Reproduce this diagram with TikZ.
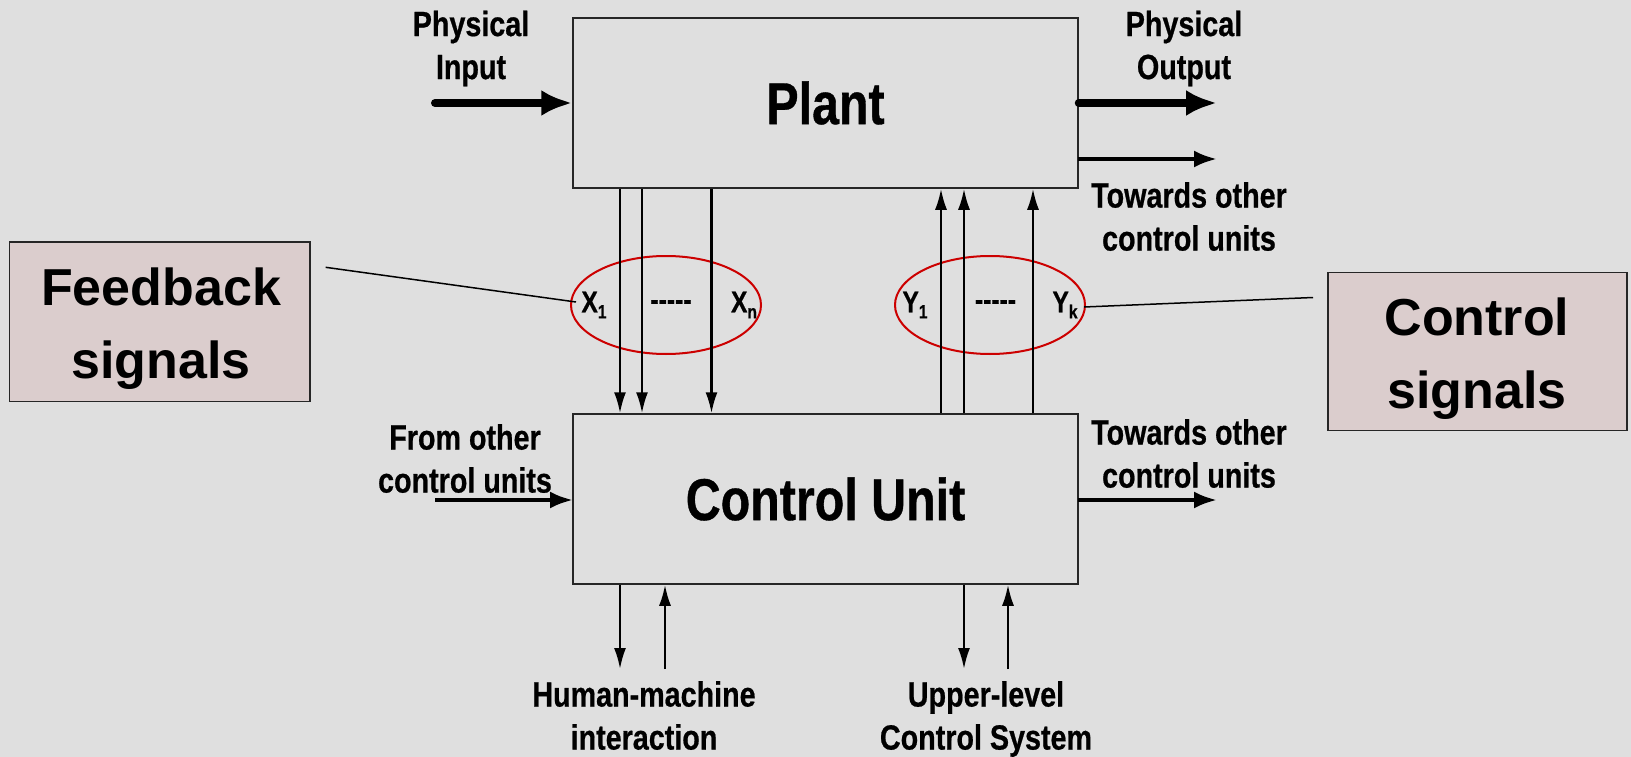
\documentclass[tikz,border=0pt]{standalone}
\usepackage{fontspec}
\setmainfont{Liberation Sans}
\newfontfamily\narrowfont{Liberation Sans}[FakeStretch=0.82, BoldFeatures={FakeBold=0.6}]
\usetikzlibrary{arrows.meta,shapes.geometric}
\definecolor{bg}{HTML}{DFDFDF}
\definecolor{sigfill}{HTML}{DBCDCD}
\definecolor{ellred}{HTML}{CC0000}
\newcommand{\sbs}[1]{\raisebox{-6pt}{\fontsize{19}{19}\selectfont #1}}
\begin{document}
\begin{tikzpicture}[x=1pt,y=-1pt,
  mainbox/.style={draw=black!85, line width=1.5pt, fill=bg, minimum width=505pt, minimum height=170pt, inner sep=0pt, font=\narrowfont\bfseries\fontsize{59}{59}\selectfont},
  sigbox/.style={draw=black!85, line width=1.5pt, fill=sigfill, inner sep=0pt},
  bigtxt/.style={inner sep=0pt, align=center, anchor=north, font=\bfseries\fontsize{52}{73}\selectfont},
  lbl/.style={inner sep=0pt, align=center, anchor=north, font=\narrowfont\bfseries\fontsize{35}{43}\selectfont},
  sig/.style={draw=ellred, line width=2pt, ellipse, minimum width=190pt, minimum height=98pt, inner sep=0pt},
  sl/.style={inner sep=0pt, font=\narrowfont\bfseries\fontsize{30}{30}\selectfont},
  tarrow/.style={line width=2.3pt, -{Latex[length=21pt,width=12pt]}},
  marrow/.style={line width=4pt, -{Latex[length=23pt,width=17pt]}},
  karrow/.style={line width=8pt, line cap=round, -{Latex[length=31pt,width=26pt]}},
  lead/.style={line width=1.5pt}
]
\fill[bg] (0,0) rectangle (1631,757);
\useasboundingbox (0,0) rectangle (1631,757);

% main boxes
\node[mainbox] (plant) at (825.5,103) {Plant};
\node[mainbox] (cu) at (825.5,499) {Control Unit};

% signal ellipses
\node[sig] (ellx) at (666,305) {};
\node[sig] (elly) at (990,305) {};

% side boxes
\node[sigbox, minimum width=300.6pt, minimum height=159.5pt] (fb) at (159.7,321.75) {};
\node[bigtxt] (fbt) at (161,268) {Feedback\\signals};
\node[sigbox, minimum width=299pt, minimum height=158pt] (cs) at (1477.5,351.5) {};
\node[bigtxt] (cst) at (1477,298) {Control\\signals};

% labels
\node[lbl] (pin) at (471,10.5) {Physical\\Input};
\node[lbl] (pout) at (1184,10.5) {Physical\\Output};
\node[lbl] (tow1) at (1189,182) {Towards other\\control units};
\node[lbl] (from) at (465,424) {From other\\control units};
\node[lbl] (tow2) at (1189,419) {Towards other\\control units};
\node[lbl] (hmi) at (644,681) {Human-machine\\interaction};
\node[lbl] (ulc) at (986,681) {Upper-level\\Control System};

% signal labels
\node[sl] (x1) at (594,305) {X\sbs{1}};
\node[sl] (xd) at (671,305) {-----};
\node[sl] (xn) at (744,305) {X\sbs{n}};
\node[sl] (y1) at (915,305) {Y\sbs{1}};
\node[sl] (yd) at (995.5,305) {-----};
\node[sl] (yk) at (1065,305) {Y\sbs{k}};

% coordinates
\coordinate (pinS) at (435,103);
\coordinate (poutE) at (1217,103);
\coordinate (towE) at (1217,159);
\coordinate (pl2) at (1078,159);
\coordinate (fromS) at (435,500);
\coordinate (cuL) at (573,500);
\coordinate (cuR) at (1078,500);
\coordinate (tow2E) at (1217,500);
\coordinate (fbA) at (325.6,267.3);
\coordinate (fbB) at (576,302);
\coordinate (csA) at (1084,307);
\coordinate (csB) at (1313,297.5);
\coordinate (xa) at (620,0);
\coordinate (xb) at (642,0);
\coordinate (xc) at (711.5,0);
\coordinate (ya) at (941,0);
\coordinate (yb) at (964,0);
\coordinate (yc) at (1033,0);
\coordinate (ha) at (620,669);
\coordinate (hb) at (665,669);
\coordinate (ua) at (964,669);
\coordinate (ub) at (1008,669);

% plant arrows
\draw[karrow] (pinS) -- (plant.west);
\draw[karrow] (plant.east) -- (poutE);
\draw[marrow] (pl2) -- (towE);

% feedback / control
\foreach \c in {xa,xb,xc} \draw[tarrow] (plant.south -| \c) -- (cu.north -| \c);
\foreach \c in {ya,yb,yc} \draw[tarrow] (cu.north -| \c) -- (plant.south -| \c);

% control unit side arrows
\draw[marrow] (fromS) -- (cuL);
\draw[marrow] (cuR) -- (tow2E);

% bottom arrows
\draw[tarrow] (cu.south -| ha) -- (ha);
\draw[tarrow] (hb) -- (cu.south -| hb);
\draw[tarrow] (cu.south -| ua) -- (ua);
\draw[tarrow] (ub) -- (cu.south -| ub);

% leader lines
\draw[lead] (fbA) -- (fbB);
\draw[lead] (csA) -- (csB);
\end{tikzpicture}
\end{document}
